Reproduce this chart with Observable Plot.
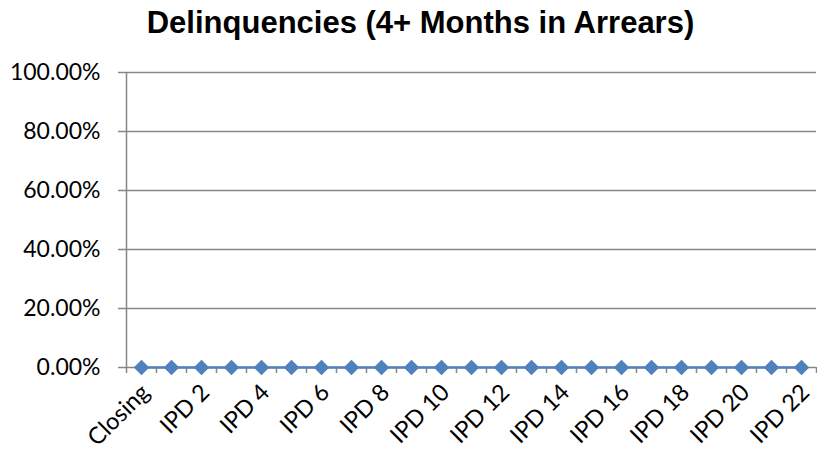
<!DOCTYPE html>
<html>
<head>
<meta charset="utf-8">
<script src="https://cdn.jsdelivr.net/npm/d3@7"></script>
<script src="https://cdn.jsdelivr.net/npm/@observablehq/plot@0.6"></script>
<style>
  html, body { margin: 0; padding: 0; background: #fff; }
  #title { width: 817px; height: 50px; box-sizing: border-box; padding-top: 7px; padding-left: 24px;
    text-align: center; font-family: "Liberation Sans", Arial, sans-serif; font-weight: bold;
    font-size: 31px; line-height: 31px; color: #000; white-space: nowrap; }
</style>
</head>
<body>
<div id="title">Delinquencies (4+ Months in Arrears)</div>
<div id="chart"></div>
<script>
const categories = ["Closing", "IPD 1", "IPD 2", "IPD 3", "IPD 4", "IPD 5", "IPD 6", "IPD 7", "IPD 8", "IPD 9", "IPD 10", "IPD 11", "IPD 12", "IPD 13", "IPD 14", "IPD 15", "IPD 16", "IPD 17", "IPD 18", "IPD 19", "IPD 20", "IPD 21", "IPD 22"];
const values = [0, 0, 0, 0, 0, 0, 0, 0, 0, 0, 0, 0, 0, 0, 0, 0, 0, 0, 0, 0, 0, 0, 0];
const yTicks = [0, 0.2, 0.4, 0.6, 0.8, 1.0];

const data = categories.map((c, i) => ({i, category: c, value: values[i]}));
const n = categories.length;
const labelTicks = d3.range(0, n, 2);
const boundaryTicks = d3.range(0, n + 1).map(k => k - 0.5);

const gray = "#868686";
const blue = "#4F81BD";
const font = "Lato, 'Open Sans', sans-serif";

const chart = Plot.plot({
  width: 817,
  height: 404,
  marginLeft: 126,
  marginRight: 1,
  marginTop: 22,
  marginBottom: 87,
  style: {fontFamily: font, fontSize: "23px", color: "#000", background: "#fff"},
  x: {type: "linear", domain: [-0.5, n - 0.5]},
  y: {domain: [0, 1]},
  marks: [
    Plot.gridY(yTicks, {stroke: gray, strokeOpacity: 1, strokeWidth: 1.5}),
    Plot.ruleX([-0.5], {stroke: gray, strokeWidth: 1.5}),
    Plot.axisY(yTicks, {tickSize: 8, tickPadding: 18, stroke: gray, strokeWidth: 1.5,
      tickFormat: d => (d * 100).toFixed(2) + "%", fill: "#000", fontSize: 23, label: null}),
    Plot.axisX(boundaryTicks, {tickSize: 6, stroke: gray, strokeWidth: 1.5, tickFormat: () => "", label: null}),
    Plot.axisX(labelTicks, {tickSize: 0, tickPadding: 21, dx: 4, tickRotate: -45, fontSize: 23.5, fill: "#000",
      tickFormat: i => categories[i], label: null}),
    Plot.line(data, {x: "i", y: "value", stroke: blue, strokeWidth: 2.5}),
    Plot.dot(data, {x: "i", y: "value", symbol: "diamond2", r: 7, fill: blue, stroke: "none"})
  ]
});
document.getElementById("chart").appendChild(chart);
</script>
</body>
</html>
